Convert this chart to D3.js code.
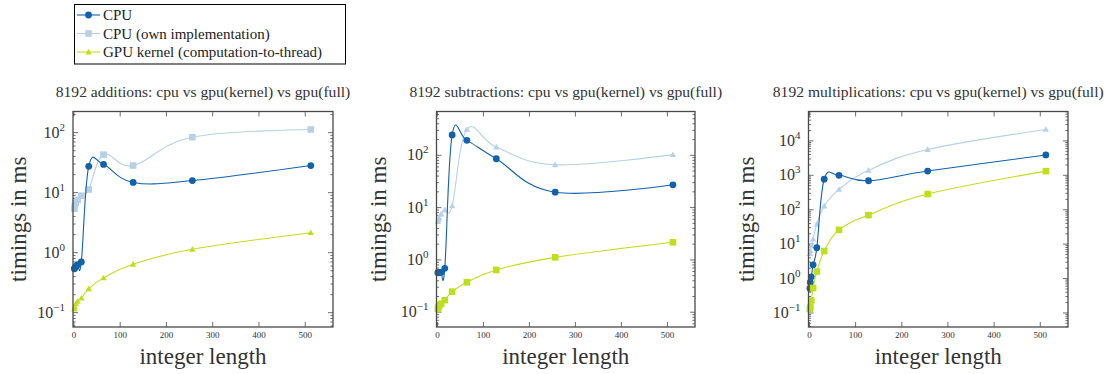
<!DOCTYPE html>
<html>
<head>
<meta charset="utf-8">
<script src="https://cdn.jsdelivr.net/npm/d3@7"></script>
<style>
  body { margin: 0; background: #fff; }
  svg { display: block; }
  text { font-family: 'Liberation Serif', 'DejaVu Serif', 'Times New Roman', Times, serif; }
</style>
</head>
<body>
<svg id="chart" width="1108" height="374"></svg>
<script>
// integer lengths measured
const xs = [1, 2, 4, 8, 16, 32, 64, 128, 256, 512];

const titles = [
  '8192 additions: cpu vs gpu(kernel) vs gpu(full)',
  '8192 subtractions: cpu vs gpu(kernel) vs gpu(full)',
  '8192 multiplications: cpu vs gpu(kernel) vs gpu(full)'
];
const seriesNames = ['CPU', 'CPU (own implementation)', 'GPU kernel (computation-to-thread)'];

// timings in ms
const addCpu = [0.54, 0.56, 0.59, 0.63, 0.70, 27.5, 29.5, 14.8, 15.9, 28.3];
const addOwn = [5.4, 6.0, 6.8, 7.6, 8.9, 11.3, 43, 28.3, 84, 113];
const addGpu = [0.115, 0.125, 0.14, 0.155, 0.175, 0.25, 0.38, 0.64, 1.14, 2.15];

const subCpu = [0.57, 0.57, 0.58, 0.58, 0.69, 245, 193, 86, 19.7, 27.3];
const subOwn = [5.4, 5.9, 6.4, 7.5, 9.1, 10.8, 312, 144, 66, 103];
const subGpu = [0.115, 0.125, 0.135, 0.145, 0.17, 0.247, 0.373, 0.643, 1.12, 2.17];

const mulCpu = [0.52, 0.77, 1.12, 2.5, 7.9, 770, 1000, 695, 1330, 3900];
const mulOwn = [5.3, 6.5, 9, 14, 38, 128, 390, 1400, 5600, 21500];
const mulGpu = [0.13, 0.15, 0.23, 0.53, 1.6, 6.3, 26, 70, 285, 1320];

const xTicks = [0, 100, 200, 300, 400, 500];

const colors = ['#1161ab', '#b6d0e8', '#bde01c'];
const frameColor = '#4a4a4a';
const textColor = '#333';
const serif = "'Liberation Serif', 'DejaVu Serif', serif";

const svg = d3.select('#chart');

const panels = [
  { title: titles[0], data: [addCpu, addOwn, addGpu], marks: ['circle', 'square', 'triangle'], left: 73, right: 333, ylabX: 26 },
  { title: titles[1], data: [subCpu, subOwn, subGpu], marks: ['circle', 'triangle', 'square'], left: 436.5, right: 695, ylabX: 386 },
  { title: titles[2], data: [mulCpu, mulOwn, mulGpu], marks: ['circle', 'triangle', 'square'], left: 808.5, right: 1068, ylabX: 754 }
];
const plotTop = 111.5, plotBottom = 327;

function drawMark(g, type, x, y, color) {
  if (type === 'circle') {
    g.append('circle').attr('cx', x).attr('cy', y).attr('r', 3.4).attr('fill', color);
  } else if (type === 'square') {
    g.append('rect').attr('x', x - 3.3).attr('y', y - 3.3).attr('width', 6.6).attr('height', 6.6).attr('fill', color);
  } else {
    const s = 3.2;
    g.append('path').attr('d', `M${x},${y - s}L${x + s},${y + s * 0.75}L${x - s},${y + s * 0.75}Z`).attr('fill', color);
  }
}

panels.forEach(p => {
  const g = svg.append('g').attr('font-family', serif);

  // pgfplots-like enlargelimits on log axis
  const all = p.data.flat();
  const lo = Math.log10(d3.min(all)), hi = Math.log10(d3.max(all));
  const pad = (hi - lo) * 0.1;
  const y = d3.scaleLog().domain([10 ** (lo - pad), 10 ** (hi + pad)]).range([plotBottom, plotTop]);
  const x = d3.scaleLinear().domain([-2, 560]).range([p.left, p.right]);

  // minor + major ticks inside the frame
  const eLo = Math.floor(lo - pad), eHi = Math.ceil(hi + pad);
  for (let e = eLo; e <= eHi; e++) {
    for (let m = 1; m <= 9; m++) {
      const v = m * 10 ** e;
      if (v < y.domain()[0] || v > y.domain()[1]) continue;
      const len = m === 1 ? 5 : 2.6;
      const yy = y(v);
      g.append('line').attr('x1', p.left).attr('x2', p.left + len).attr('y1', yy).attr('y2', yy)
        .attr('stroke', frameColor).attr('stroke-width', 0.8);
      g.append('line').attr('x1', p.right).attr('x2', p.right - len).attr('y1', yy).attr('y2', yy)
        .attr('stroke', frameColor).attr('stroke-width', 0.8);
      if (m === 1) {
        const t = g.append('text').attr('x', p.left - 8).attr('y', yy + 5)
          .attr('text-anchor', 'end').attr('fill', textColor).style('font-size', '16px');
        t.append('tspan').text('10');
        t.append('tspan').attr('dy', -7).style('font-size', '11px').text(e < 0 ? '\u2212' + (-e) : String(e));
      }
    }
  }
  xTicks.forEach(v => {
    const xx = x(v);
    g.append('line').attr('x1', xx).attr('x2', xx).attr('y1', plotBottom).attr('y2', plotBottom - 5)
      .attr('stroke', frameColor).attr('stroke-width', 0.8);
    g.append('line').attr('x1', xx).attr('x2', xx).attr('y1', plotTop).attr('y2', plotTop + 5)
      .attr('stroke', frameColor).attr('stroke-width', 0.8);
    g.append('text').attr('x', xx).attr('y', plotBottom + 11).attr('text-anchor', 'middle')
      .attr('fill', textColor).style('font-size', '9px').text(v);
  });

  // series
  const line = d3.line().x(d => x(d[0])).y(d => y(d[1])).curve(d3.curveCardinal.tension(-0.1));
  [1, 0, 2].forEach(i => {
    const pts = xs.map((xv, k) => [xv, p.data[i][k]]);
    g.append('path').attr('d', line(pts)).attr('fill', 'none')
      .attr('stroke', colors[i]).attr('stroke-width', 1.1);
    pts.forEach(d => drawMark(g, p.marks[i], x(d[0]), y(d[1]), colors[i]));
  });

  // frame
  g.append('rect').attr('x', p.left).attr('y', plotTop).attr('width', p.right - p.left).attr('height', plotBottom - plotTop)
    .attr('fill', 'none').attr('stroke', frameColor).attr('stroke-width', 1.3);

  // labels
  const cx = (p.left + p.right) / 2;
  g.append('text').attr('x', cx).attr('y', 96.5).attr('text-anchor', 'middle')
    .attr('fill', textColor).style('font-size', '15.6px').text(p.title);
  g.append('text').attr('x', cx).attr('y', 364).attr('text-anchor', 'middle')
    .attr('fill', textColor).style('font-size', '23px').text('integer length');
  g.append('text').attr('transform', `translate(${p.ylabX},${(plotTop + plotBottom) / 2}) rotate(-90)`)
    .attr('text-anchor', 'middle').attr('fill', textColor).style('font-size', '23px').text('timings in ms');
});

// legend
const lg = svg.append('g').attr('font-family', serif);
lg.append('rect').attr('x', 74.5).attr('y', 4.5).attr('width', 271).attr('height', 59.5)
  .attr('fill', '#fff').attr('stroke', '#000').attr('stroke-width', 1);
const legendMarks = ['circle', 'square', 'triangle'];
seriesNames.forEach((name, i) => {
  const yy = 15 + i * 18.5;
  lg.append('line').attr('x1', 77).attr('x2', 100).attr('y1', yy).attr('y2', yy)
    .attr('stroke', colors[i]).attr('stroke-width', 1.1);
  drawMark(lg, legendMarks[i], 88.5, yy, colors[i]);
  lg.append('text').attr('x', 103).attr('y', yy + 5).attr('fill', '#222')
    .style('font-size', '15px').text(name);
});
</script>
</body>
</html>
